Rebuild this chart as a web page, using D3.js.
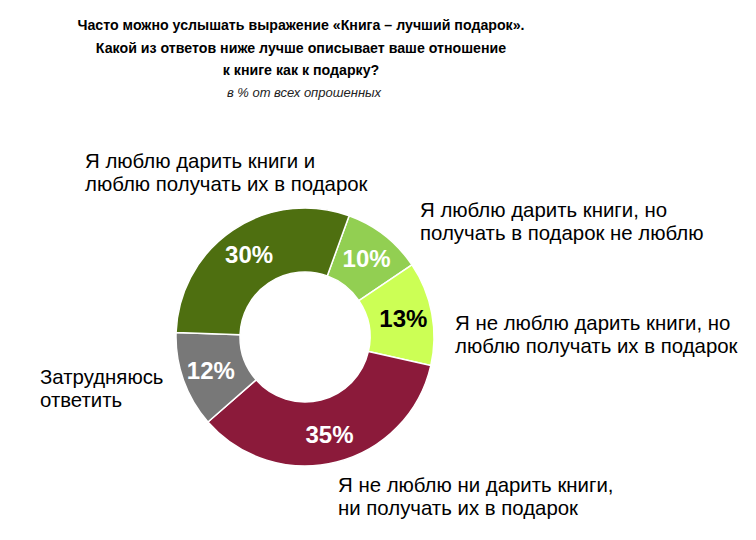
<!DOCTYPE html>
<html>
<head>
<meta charset="utf-8">
<script src="https://cdn.jsdelivr.net/npm/d3@7"></script>
<style>
  body { margin: 0; background: #fff; }
  svg { display: block; font-family: "Liberation Sans", Arial, sans-serif; }
  .title { font-weight: bold; font-size: 14.2px; fill: #000; }
  .subtitle { font-style: italic; font-size: 13px; fill: #222; }
  .cat-label { font-size: 20.4px; fill: #000; }
  .pct { font-weight: bold; font-size: 24px; }
</style>
</head>
<body>
<svg id="chart" width="756" height="540"></svg>
<script>
/* ---------- data ---------- */
const titleLines = [
  "Часто можно услышать выражение «Книга – лучший подарок».",
  "Какой из ответов ниже лучше описывает ваше отношение",
  "к книге как к подарку?"
];
const subtitle = "в % от всех опрошенных";

// slices go clockwise starting a bit right of 12 o'clock
const categories = [
  "Я люблю дарить книги, но|получать в подарок не люблю",
  "Я не люблю дарить книги, но|люблю получать их в подарок",
  "Я не люблю ни дарить книги,|ни получать их в подарок",
  "Затрудняюсь|ответить",
  "Я люблю дарить книги и|люблю получать их в подарок"
];
const values = [10, 13, 35, 12, 30];
const colors = ["#92cf52", "#ccff55", "#8b1a3a", "#787878", "#4e6f10"];
const pctColors = ["#fff", "#000", "#fff", "#fff", "#fff"];
// where each category text block starts (left x, first baseline y)
const labelPos = [[420, 217], [455, 330], [338, 492], [40, 384], [85, 168]];

/* ---------- layout ---------- */
const svg = d3.select("#chart");
const cx = 305, cy = 337;
const rOuter = 129, rInner = 65;
const startAngle = 20 * Math.PI / 180;

// title
svg.append("g").selectAll("text").data(titleLines).join("text")
  .attr("class", "title")
  .attr("x", 301).attr("y", (d, i) => 30 + i * 22.5)
  .attr("text-anchor", "middle")
  .text(d => d);

svg.append("text").attr("class", "subtitle")
  .attr("x", 304).attr("y", 97).attr("text-anchor", "middle")
  .text(subtitle);

/* ---------- donut ---------- */
const pie = d3.pie().sort(null).value(d => d)
  .startAngle(startAngle).endAngle(startAngle + 2 * Math.PI);
const arcs = pie(values);

const arc = d3.arc().innerRadius(rInner).outerRadius(rOuter);
const labelArc = d3.arc().innerRadius(100).outerRadius(100);

const g = svg.append("g").attr("transform", `translate(${cx},${cy})`);

g.selectAll("path").data(arcs).join("path")
  .attr("d", arc)
  .attr("fill", (d, i) => colors[i])
  .attr("stroke", "#fff")
  .attr("stroke-width", 1.5);

g.selectAll("text.pct").data(arcs).join("text")
  .attr("class", "pct")
  .attr("transform", d => `translate(${labelArc.centroid(d)})`)
  .attr("text-anchor", "middle")
  .attr("dy", "0.36em")
  .attr("fill", (d, i) => pctColors[i])
  .text(d => d.data + "%");

/* ---------- category labels ---------- */
categories.forEach((c, i) => {
  const t = svg.append("text").attr("class", "cat-label")
    .attr("x", labelPos[i][0]).attr("y", labelPos[i][1]);
  c.split("|").forEach((line, j) => {
    t.append("tspan").attr("x", labelPos[i][0]).attr("dy", j === 0 ? 0 : 22.5).text(line);
  });
});
</script>
</body>
</html>
